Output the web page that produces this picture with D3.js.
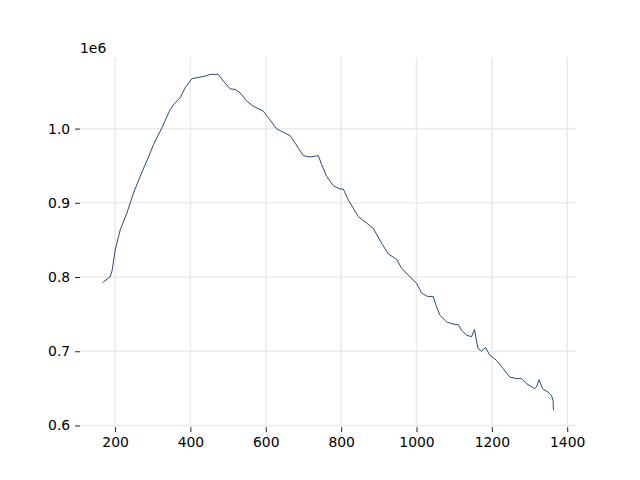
<!DOCTYPE html>
<html>
<head>
<meta charset="utf-8">
<script src="https://cdn.jsdelivr.net/npm/d3@7"></script>
<style>
  html, body { margin: 0; padding: 0; background: #fff; }
  svg { display: block; }
  text { font-family: "DejaVu Sans", sans-serif; }
</style>
</head>
<body>
<svg id="chart" width="640" height="480"></svg>
<script>
// Data
const xValues = [166.8, 187.2, 192.5, 200.4, 213.7, 231.4, 248.9, 266.7, 293.2, 302.0,
  324.2, 346.2, 359.5, 372.7, 386.0, 403.8, 417.0, 439.0, 452.3, 474.3,
  487.5, 505.3, 518.6, 531.8, 549.6, 567.1, 593.6, 606.8, 629.1, 646.6,
  664.4, 677.6, 699.6, 717.4, 739.4, 748.4, 761.7, 779.2, 797.0, 805.7,
  819.0, 845.4, 867.7, 885.2, 907.5, 925.0, 947.2, 960.5, 982.5, 1000.3,
  1013.5, 1031.0, 1044.3, 1053.3, 1062.0, 1079.8, 1097.3, 1110.6, 1119.6, 1132.8,
  1146.1, 1154.0, 1158.8, 1163.6, 1172.6, 1183.2, 1194.6, 1212.4, 1229.9, 1247.6,
  1265.4, 1278.6, 1291.9, 1313.9, 1318.4, 1325.3, 1334.3, 1349.2, 1358.2, 1362.4,
  1363.5];
const yValues = [792300, 800400, 809500, 836500, 863500, 886100, 913100, 935500, 967200, 978400,
  1000900, 1025700, 1034700, 1041500, 1055000, 1067200, 1068500, 1070700, 1073000, 1073000,
  1063900, 1053600, 1052700, 1048200, 1036900, 1030100, 1023400, 1014500, 999600, 995000,
  990500, 980700, 963500, 961800, 963500, 951400, 935500, 923000, 918500, 918500,
  904000, 881500, 872600, 865800, 845500, 831100, 823900, 811800, 800400, 791500,
  778400, 773400, 773900, 759900, 748600, 739600, 736500, 735800, 728400, 721600,
  719600, 729300, 714900, 703600, 700000, 705000, 694600, 687800, 676600, 665300,
  663100, 663100, 656400, 649600, 651800, 661800, 649600, 645000, 640500, 633800,
  620300];
const xTicks = [200, 400, 600, 800, 1000, 1200, 1400];
const yTicks = [600000, 700000, 800000, 900000, 1000000];
const offsetLabel = "1e6";

const data = xValues.map((v, i) => ({x: v, y: yValues[i]}));

const W = 640, H = 480;
const mLeft = 80, mRight = 576, mTop = 57.6, mBottom = 427.2;

function padded(ext) {
  const d = ext[1] - ext[0];
  return [ext[0] - 0.05 * d, ext[1] + 0.05 * d];
}
const xs = d3.scaleLinear().domain(padded(d3.extent(xValues))).range([mLeft, mRight]);
const ys = d3.scaleLinear().domain(padded(d3.extent(yValues))).range([mBottom, mTop]);

const svg = d3.select("#chart");
svg.append("rect").attr("width", W).attr("height", H).attr("fill", "#fff");

// grid
const grid = svg.append("g").attr("stroke", "#ebebeb").attr("stroke-width", 1.6);
grid.selectAll("line.vx").data(xTicks).join("line")
  .attr("x1", d => xs(d)).attr("x2", d => xs(d))
  .attr("y1", mTop).attr("y2", mBottom);
grid.selectAll("line.hy").data(yTicks).join("line")
  .attr("x1", mLeft).attr("x2", mRight)
  .attr("y1", d => ys(d)).attr("y2", d => ys(d));

// axes
const fs = 13.9;
const xAxis = d3.axisBottom(xs).tickValues(xTicks).tickSize(4.9).tickPadding(4.9)
  .tickFormat(d3.format("d"));
const gx = svg.append("g").attr("transform", `translate(0,${mBottom})`).call(xAxis);
gx.select(".domain").remove();
gx.selectAll(".tick line").attr("stroke", "#222").attr("stroke-width", 1);
gx.selectAll(".tick text").attr("font-size", fs).attr("font-family", "DejaVu Sans")
  .attr("fill", "#000");

const yAxis = d3.axisLeft(ys).tickValues(yTicks).tickSize(4.9).tickPadding(4.9)
  .tickFormat(d => (d / 1e6).toFixed(1));
const gy = svg.append("g").attr("transform", `translate(${mLeft},0)`).call(yAxis);
gy.select(".domain").remove();
gy.selectAll(".tick line").attr("stroke", "#222").attr("stroke-width", 1);
gy.selectAll(".tick text").attr("font-size", fs).attr("font-family", "DejaVu Sans")
  .attr("fill", "#000");

svg.append("text").attr("x", mLeft).attr("y", 53)
  .attr("font-size", fs).attr("fill", "#000").text(offsetLabel);

// line
const line = d3.line().x(d => xs(d.x)).y(d => ys(d.y));
svg.append("path").datum(data)
  .attr("d", line)
  .attr("fill", "none")
  .attr("stroke", "#2b4b75")
  .attr("stroke-width", 1)
  .attr("stroke-linejoin", "round");
</script>
</body>
</html>
